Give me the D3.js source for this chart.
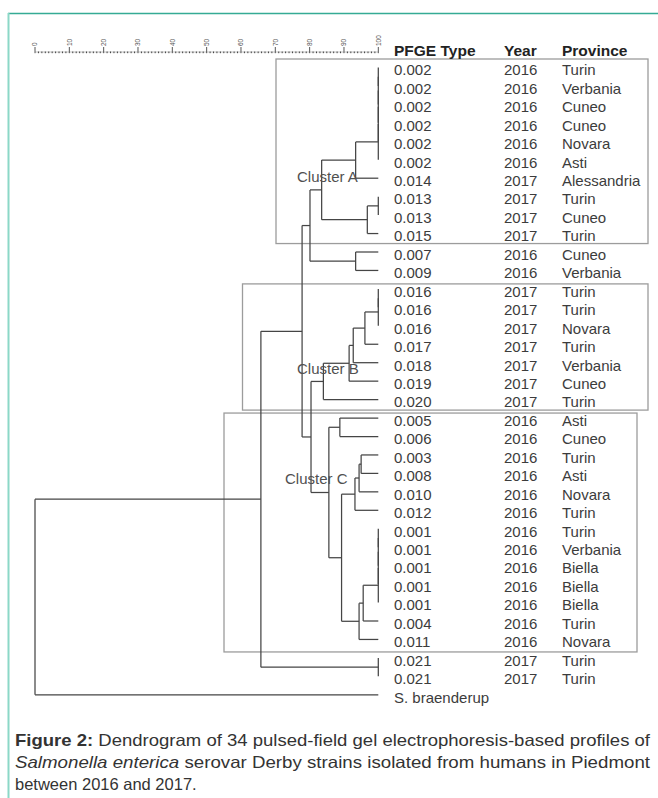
<!DOCTYPE html>
<html><head><meta charset="utf-8">
<script src="https://cdn.jsdelivr.net/npm/d3@7"></script>
<style>
html,body{margin:0;padding:0;background:#fff;}
svg{display:block;font-family:"Liberation Sans",Arial,sans-serif;}
</style>
</head><body>
<svg id="chart" width="658" height="798"></svg>
<script>
// ---------- DATA ----------
const pfgeTypes = ["0.002","0.002","0.002","0.002","0.002","0.002","0.014","0.013","0.013","0.015",
  "0.007","0.009","0.016","0.016","0.016","0.017","0.018","0.019","0.020",
  "0.005","0.006","0.003","0.008","0.010","0.012","0.001","0.001","0.001","0.001","0.001","0.004","0.011",
  "0.021","0.021"];
const years = ["2016","2016","2016","2016","2016","2016","2017","2017","2017","2017",
  "2016","2016","2017","2017","2017","2017","2017","2017","2017",
  "2016","2016","2016","2016","2016","2016","2016","2016","2016","2016","2016","2016","2016",
  "2017","2017"];
const provinces = ["Turin","Verbania","Cuneo","Cuneo","Novara","Asti","Alessandria","Turin","Cuneo","Turin",
  "Cuneo","Verbania","Turin","Turin","Novara","Turin","Verbania","Cuneo","Turin",
  "Asti","Cuneo","Turin","Asti","Novara","Turin","Turin","Verbania","Biella","Biella","Biella","Turin","Novara",
  "Turin","Turin"];
const outgroup = "S. braenderup";
const headers = ["PFGE Type","Year","Province"];
const scaleTicks = [0,10,20,30,40,50,60,70,80,90,100];
const clusterNames = ["Cluster A","Cluster B","Cluster C"];
const clusterFirstRow = [0,12,19];
const clusterLastRow = [9,18,31];
const captionLines = [
  [["Figure 2:","b"],[" Dendrogram of 34 pulsed-field gel electrophoresis-based profiles of",""]],
  [["Salmonella enterica","i"],[" serovar Derby strains isolated from humans in Piedmont",""]],
  [["between 2016 and 2017.",""]]
];

// tree nodes: [similarity %, child, child]; a number is a row index
const groupA = [100,[100,[100,[100,[100,0,1],2],3],4],5];
const nodeA1 = [93.4, groupA, 6];
const nodeA2 = [96.8, [100,7,8], 9];
const nodeA3 = [83.5, nodeA1, nodeA2];
const node1011 = [93.4, 10, 11];
const nodeA4 = [80.1, nodeA3, node1011];
const groupB = [100,[100,12,13],14];
const nodeB1 = [96.1, groupB, 15];
const nodeB2 = [92.7, nodeB1, 16];
const nodeB3 = [91.5, nodeB2, 17];
const nodeB4 = [84.0, nodeB3, 18];
const nodeC1 = [88.8, 19, 20];
const nodeC5 = [95.0, 21, 22];
const nodeC4 = [94.4, nodeC5, 23];
const nodeC3 = [93.2, nodeC4, 24];
const groupC = [100,[100,[100,[100,25,26],27],28],29];
const nodeC7 = [95.6, groupC, 30];
const nodeC6 = [94.4, nodeC7, 31];
const nodeC2 = [89.3, nodeC3, nodeC6];
const nodeC0 = [85.6, nodeC1, nodeC2];
const nodeBC = [80.4, nodeB4, nodeC0];
const nodeABC = [77.8, nodeA4, nodeBC];
const nodeDerby = [65.8, nodeABC, [100,32,33]];
const root = [0, nodeDerby, 34];

// ---------- LAYOUT ----------
const svg = d3.select("#chart");
const x = d3.scaleLinear().domain([0,100]).range([35,378.3]);
const rowCenter = d3.scaleLinear().domain([0,34]).range([70, 70+34*18.45]);
const rowLine = i => rowCenter(i) - 2.5;
const colX = [394, 504, 562];
const lineColor = "#454545";
const textColor = "#3c3c3c";

// teal frame
svg.append("line").attr("x1",8).attr("x2",658).attr("y1",13.5).attr("y2",13.5)
  .attr("stroke","#35ab95").attr("stroke-width",1.3);
svg.append("line").attr("x1",8.5).attr("x2",8.5).attr("y1",13).attr("y2",798)
  .attr("stroke","#8cd8c7").attr("stroke-width",2);

// cluster boxes
const boxLeft = [276, 242.5, 224];
const boxRight = [648, 648, 637];
const boxTopPad = [11, 7.5, 7.5];
const boxBotPad = [7.5, 8, 10];
const gBox = svg.append("g").attr("fill","none").attr("stroke","#9c9c9c").attr("stroke-width",1.3);
clusterNames.forEach((n,k)=>{
  const y0 = rowCenter(clusterFirstRow[k]) - boxTopPad[k];
  const y1 = rowCenter(clusterLastRow[k]) + boxBotPad[k];
  gBox.append("rect").attr("x",boxLeft[k]).attr("y",y0)
    .attr("width",boxRight[k]-boxLeft[k]).attr("height",y1-y0);
});

// scale bar
const baseY = 52;
const gScale = svg.append("g");
gScale.append("line").attr("x1",x(0)).attr("x2",x(100)).attr("y1",baseY).attr("y2",baseY)
  .attr("stroke","#b5b5b5").attr("stroke-width",0.8);
d3.range(0,101,1).forEach(v=>{
  const major = v % 10 === 0;
  gScale.append("line").attr("x1",x(v)).attr("x2",x(v))
    .attr("y1", major ? baseY-5 : baseY-0.5).attr("y2", baseY+1.2)
    .attr("stroke","#444").attr("stroke-width", major?0.9:1);
});
scaleTicks.forEach(v=>{
  gScale.append("text").attr("transform",`translate(${x(v)+2.2},${baseY-6}) rotate(-90)`)
    .attr("font-size",6.5).attr("fill","#555").text(v);
});

// dendrogram
const gTree = svg.append("g").attr("stroke",lineColor).attr("stroke-width",1.25).attr("fill","none");
function draw(node){
  if (typeof node === "number") return {x: x(100), y: rowLine(node)};
  const xs = x(node[0]);
  const kids = node.slice(1).map(draw);
  const y = d3.mean(kids, d=>d.y);
  gTree.append("line").attr("x1",xs).attr("x2",xs)
    .attr("y1",d3.min(kids,d=>d.y)).attr("y2",d3.max(kids,d=>d.y));
  kids.forEach(k=>{
    if (k.x - xs > 0.01)
      gTree.append("line").attr("x1",xs).attr("x2",k.x).attr("y1",k.y).attr("y2",k.y);
  });
  return {x: xs, y};
}
draw(root);

// cluster labels
const clusterLabelX = [297, 297, 285];
const clusterLabelY = [182, 374, 483.5];
clusterNames.forEach((n,k)=>{
  svg.append("text").attr("x",clusterLabelX[k]).attr("y",clusterLabelY[k])
    .attr("font-size",15).attr("fill","#505050").text(n);
});

// headers
headers.forEach((h,k)=>{
  svg.append("text").attr("x",colX[k]).attr("y",55.5).attr("font-size",15.5)
    .attr("font-weight","bold").attr("fill","#222").text(h);
});

// rows
const gRows = svg.append("g").attr("font-size",15).attr("fill",textColor);
pfgeTypes.forEach((t,i)=>{
  const yb = rowCenter(i) + 5.3;
  gRows.append("text").attr("x",colX[0]).attr("y",yb).text(t);
  gRows.append("text").attr("x",colX[1]).attr("y",yb).text(years[i]);
  gRows.append("text").attr("x",colX[2]).attr("y",yb).text(provinces[i]);
});
gRows.append("text").attr("x",colX[0]).attr("y",rowCenter(34)+5.3).text(outgroup);

// caption
const capBase = [746, 768, 790];
const capWidth = [635, 635, null];
captionLines.forEach((parts,k)=>{
  const t = svg.append("text").attr("x",15).attr("y",capBase[k]).attr("font-size",16.5).attr("fill","#333");
  parts.forEach(p=>{
    const s = t.append("tspan").text(p[0]);
    if (p[1]==="b") s.attr("font-weight","bold");
    if (p[1]==="i") s.attr("font-style","italic");
  });
  if (capWidth[k]) t.attr("textLength",capWidth[k]).attr("lengthAdjust","spacingAndGlyphs");
});
</script>
</body></html>
